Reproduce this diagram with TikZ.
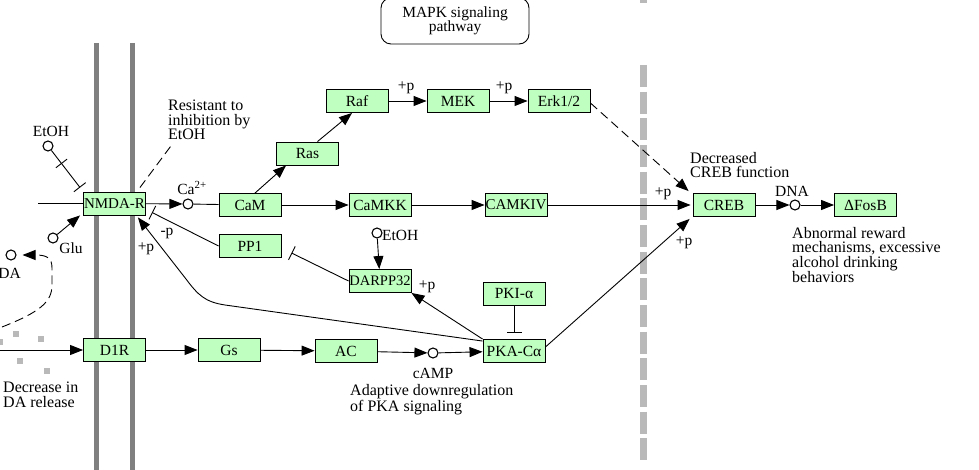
\documentclass[tikz,border=0pt]{standalone}
\usepackage{fontspec}
\setmainfont{Liberation Serif}
\usetikzlibrary{arrows.meta,calc}
\definecolor{genegreen}{HTML}{BFFFBF}
\definecolor{membgray}{HTML}{808080}
\definecolor{nucgray}{HTML}{B9B9B9}
\tikzset{
    gene/.style={draw, fill=genegreen, line width=0.9pt, minimum width=62pt, minimum height=23pt, inner sep=0pt},
    cpd/.style={circle, draw, fill=white, line width=1.1pt, minimum size=10pt, inner sep=0pt},
    act/.style={line width=0.9pt, -{Triangle[length=13pt,width=10pt]}},
    inh/.style={line width=0.9pt, -{Bar[width=15pt,line width=0.9pt]}},
    lbl/.style={inner sep=0pt},
    note/.style={inner sep=0pt, align=left, font=\fontsize{16}{14.5}\selectfont},
    dashlink/.style={line width=0.9pt, dash pattern=on 9pt off 5pt},
}

\begin{document}
\begin{tikzpicture}[x=1pt, y=-1pt, font=\fontsize{15.5}{14.5}\selectfont]
    \useasboundingbox (0,0) rectangle (979,470);

    \draw[membgray, line width=5pt] (96,43) -- (96,470);
    \draw[membgray, line width=5pt] (132,43) -- (132,470);
    \draw[nucgray, line width=7pt, dash pattern=on 22pt off 4.67pt] (643,65) -- (643,460);
    \draw[nucgray, line width=7pt] (643,0) -- (643,3);
    \foreach \sx/\sy in {16/334, 41/339, 20/361, 47/371, 0/342}{
            {\fill[nucgray] (\sx-3,\sy-3) rectangle +(6,6);}
    }

    \node[draw, rounded corners=10pt, line width=0.9pt, minimum width=148pt, minimum height=46pt, align=center, inner sep=0pt] (mapk) at (455,21) {MAPK signaling\\pathway};

    \node[gene, font=\fontsize{15}{14.5}\selectfont] (nmda) at (114.5,203.5) {NMDA-R};
    \node[gene] (d1r) at (114.5,350) {D1R};
    \node[gene] (cam) at (250,205) {CaM};
    \node[gene] (pp1) at (250,246) {PP1};
    \node[gene] (ras) at (307.5,153.5) {Ras};
    \node[gene] (raf) at (357,101) {Raf};
    \node[gene] (mek) at (458,101) {MEK};
    \node[gene] (erk) at (559,101) {Erk1/2};
    \node[gene] (camkk) at (380,205) {CaMKK};
    \node[gene, font=\fontsize{15}{14.5}\selectfont] (camk4) at (516,205) {CAMKIV};
    \node[gene, font=\fontsize{14.5}{14.5}\selectfont] (darpp) at (380,281) {DARPP32};
    \node[gene] (pki) at (514,294) {PKI-α};
    \node[gene] (pka) at (514,351) {PKA-Cα};
    \node[gene] (gs) at (229,350) {Gs};
    \node[gene] (ac) at (346,351) {AC};
    \node[gene] (creb) at (724,205) {CREB};
    \node[gene] (fosb) at (865.5,205) {ΔFosB};

    \node[cpd] (ca) at (188,204) {};
    \node[cpd] (etohA) at (48,146) {};
    \node[cpd] (glu) at (53,238) {};
    \node[cpd] (da) at (11,255) {};
    \node[cpd] (etohB) at (377,233) {};
    \node[cpd] (camp) at (433,353) {};
    \node[cpd] (dna) at (795,205) {};

    \node[lbl] (caL) at (192,188) {Ca\textsuperscript{2+}};
    \node[lbl] (etohAL) at (51,131) {EtOH};
    \node[lbl] (gluL) at (71,248) {Glu};
    \node[lbl, anchor=east] (daL) at (21,273) {DA};
    \node[lbl, anchor=west] (etohBL) at (382,235) {EtOH};
    \node[lbl] (campL) at (433,373) {cAMP};
    \node[lbl] (dnaL) at (792,191) {DNA};

    \node[lbl] (pRaf) at (406,88) {+p};
    \node[lbl] (pMek) at (504,88) {+p};
    \node[lbl] (pCrebA) at (663,194) {+p};
    \node[lbl] (pCrebB) at (684,243) {+p};
    \node[lbl] (pNmda) at (146,249) {+p};
    \node[lbl] (mNmda) at (167,233) {-p};
    \node[lbl] (pDarpp) at (427,287) {+p};

    \node[note, anchor=north west] (resist) at (168,100) {Resistant to\\inhibition by\\EtOH};
    \node[note, anchor=north west] (decDA) at (3,382) {Decrease in\\DA release};
    \node[note, anchor=north west] (adapt) at (350,384) {Adaptive downregulation\\of PKA signaling};
    \node[note, anchor=north west] (decCreb) at (690,152) {Decreased\\CREB function};
    \node[note, anchor=north west] (abnormal) at (792,227) {Abnormal reward\\mechanisms, excessive\\alcohol drinking\\behaviors};

    \coordinate (nmdaIn) at (38,203.5);
    \coordinate (d1rIn) at (0,350);
    \coordinate (daSrc) at (2,327);
    \coordinate (etohEnd) at ($(nmda.north west)+(-3,-4)$);
    \coordinate (etohMid) at ($(etohA)!.42!(etohEnd)$);

    \draw[line width=0.9pt] (nmdaIn) -- (nmda);
    \draw[inh] (etohA) -- (etohEnd);
    \draw[line width=0.9pt] ($(etohMid)!7pt!90:(etohEnd)$) -- ($(etohMid)!7pt!-90:(etohEnd)$);
    \draw[act] (glu) -- ($(nmda.south west)+(-3,0)$);
    \draw[act] (nmda) -- (ca);
    \draw[line width=0.9pt] (ca) -- (cam);
    \draw[act] (cam) -- (camkk);
    \draw[act] (camkk) -- (camk4);
    \draw[act] (camk4) -- ($(creb.west)+(-2,0)$);
    \draw[act] ($(cam.north)+(5,0)$) -- ($(ras.south west)+(10,0)$);
    \draw[act] ($(ras.north)+(10,0)$) -- ($(raf.south)+(-5,0)$);
    \draw[act] (raf) -- (mek);
    \draw[act] (mek) -- (erk);
    \draw[dashlink, -{Triangle[length=13pt,width=10pt]}] ($(erk.east)+(0,2)$) -- ($(creb.north west)+(-4,-2)$);
    \draw[act] ($(pka.east)+(0,-4)$) -- ($(creb.south west)+(-3,2)$);
    \draw[act] (creb) -- (dna);
    \draw[act] (dna) -- (fosb);
    \draw[inh] (pp1.west) -- ($(nmda.south east)+(6,-3)$);
    \draw[inh] (darpp.west) -- ($(pp1.south east)+(10,-5)$);
    \draw[act] (etohB) -- (darpp);
    \draw[act] (pka.north west) -- (darpp.south east);
    \draw[inh] (pki) -- ($(pka.north)+(0,-6.5)$);
    \draw[act] ($(pka.north west)+(0,2)$) -- (225,305) .. controls (205,302) and (198,295) .. (186,279) -- ($(nmda.south east)+(-8,2)$);
    \draw[act] (d1rIn) -- (d1r);
    \draw[act] (d1r) -- (gs);
    \draw[act] (gs) -- (ac);
    \draw[act] (ac) -- (camp);
    \draw[act] (camp) -- (pka);
    \draw[dashlink, -{Triangle[length=13pt,width=10pt]}, shorten >=6pt] (daSrc) .. controls (40,312) and (52,302) .. (52,285) -- (52,268) .. controls (52,258) and (47,255) .. (da);
    \draw[dashlink] ($(nmda.north east)+(-6,-4)$) -- ($(resist.south west)+(5,3)$);

\end{tikzpicture}
\end{document}
